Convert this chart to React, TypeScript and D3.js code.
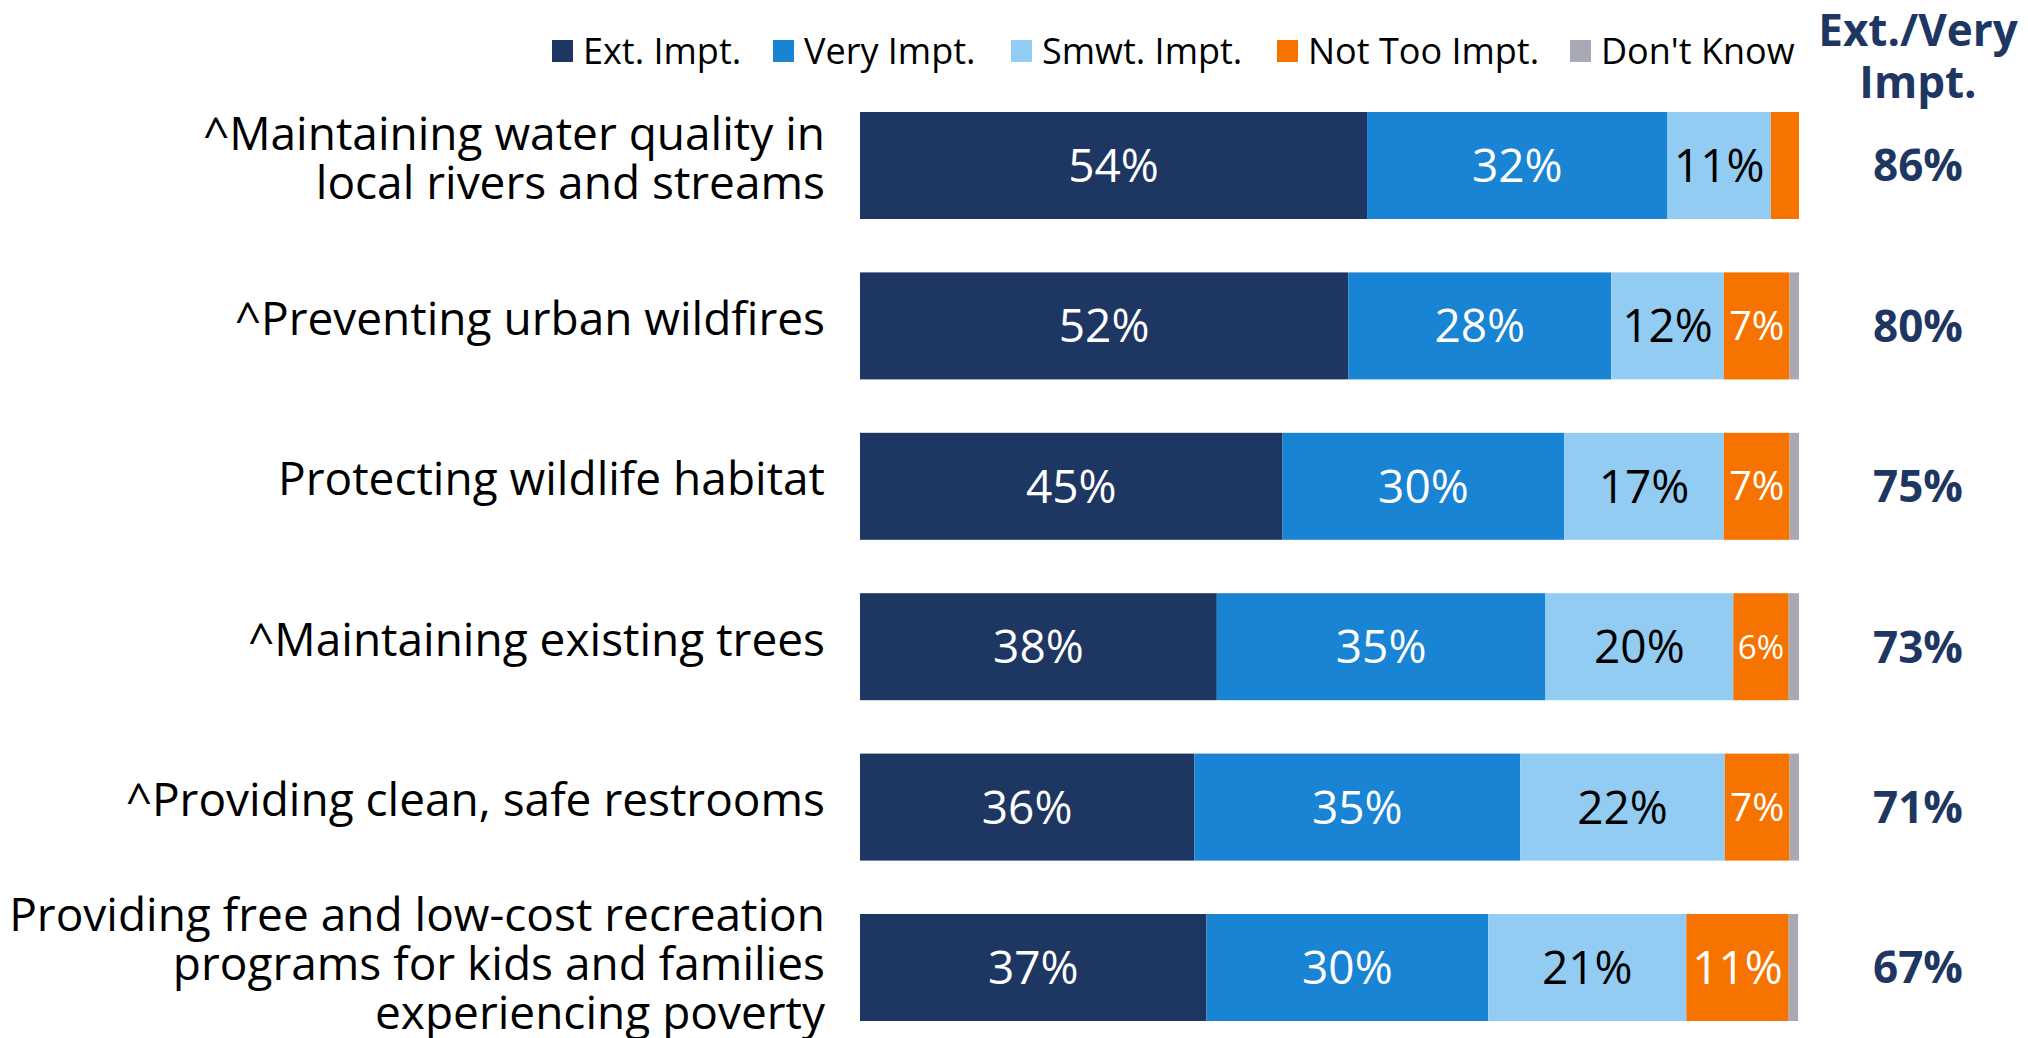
import React from "react";
import * as d3 from "d3";

const categories = [
  "^Maintaining water quality in\nlocal rivers and streams",
  "^Preventing urban wildfires",
  "Protecting wildlife habitat",
  "^Maintaining existing trees",
  "^Providing clean, safe restrooms",
  "Providing free and low-cost recreation\nprograms for kids and families\nexperiencing poverty",
];
const seriesNames = ["Ext. Impt.", "Very Impt.", "Smwt. Impt.", "Not Too Impt.", "Don't Know"];
const extImpt = [54, 52, 45, 38, 35.6, 36.9];
const veryImpt = [32, 28, 30, 35, 34.7, 30.0];
const smwtImpt = [11, 12, 17, 20, 21.8, 21.1];
const notTooImpt = [3, 7, 7, 5.9, 6.9, 10.9];
const dontKnow = [0, 1, 1, 1.1, 1.0, 1.0];
const extVery = [86, 80, 75, 73, 71, 67];
const netHeader = ["Ext./Very", "Impt."];

const colors = ["#1E3762", "#1984D4", "#92CCF2", "#F77300", "#A7A9B7"];
const labelColors = ["#FFFFFF", "#FFFFFF", "#000000", "#FFFFFF", "none"];
const FONT = "'Open Sans', 'Noto Sans', sans-serif";
const NAVY = "#1E3762";

export default function App() {
  const W = 2028;
  const H = 1038;
  const keys = seriesNames;
  const rows = categories.map((c, i) => ({
    cat: c,
    [keys[0]]: extImpt[i],
    [keys[1]]: veryImpt[i],
    [keys[2]]: smwtImpt[i],
    [keys[3]]: notTooImpt[i],
    [keys[4]]: dontKnow[i],
  }));
  const stacked = d3.stack<any>().keys(keys)(rows);

  const x = d3.scaleLinear().domain([0, 100]).range([860, 1799]);
  const step = 160.4;
  const bw = 107;
  const pad = 1 - bw / step;
  const y0 = 112 - ((step - bw) / 2);
  const y = d3
    .scaleBand<string>()
    .domain(categories)
    .range([y0, y0 + step * categories.length])
    .paddingInner(pad)
    .paddingOuter(pad / 2);

  const netX = 1918;
  const labelRight = 825;

  const legendSwatchX = [552, 773, 1011, 1277, 1570];
  const legendY = 51;

  return (
    <svg width={W} height={H} style={{ display: "block", position: "absolute", left: 0, top: 0 }} fontFamily={FONT}>
      <rect width={W} height={H} fill="#FFFFFF" />
      {keys.map((k, i) => (
        <g key={k}>
          <rect x={legendSwatchX[i]} y={legendY - 11} width={21} height={22} fill={colors[i]} />
          <text x={legendSwatchX[i] + 31} y={legendY} dy="0.35em" fontSize={36} fill="#000">
            {k}
          </text>
        </g>
      ))}
      {netHeader.map((t, i) => (
        <text key={t} x={netX} y={31 + i * 52} dy="0.35em" textAnchor="middle" fontSize={44} fontWeight="bold" fill={NAVY}>
          {t}
        </text>
      ))}
      {stacked.map((s, si) => (
        <g key={s.key}>
          {s.map((d, i) => {
            const x0 = x(d[0]);
            const x1 = x(d[1]);
            const w = x1 - x0;
            const cy = (y(categories[i]) as number) + bw / 2;
            const v = d[1] - d[0];
            const show = labelColors[si] !== "none" && v >= 5;
            const fs = w < 80 ? w * 0.6 : 46;
            return (
              <g key={i}>
                {w > 0 && <rect x={x0} y={y(categories[i])} width={w} height={y.bandwidth()} fill={colors[si]} />}
                {show && (
                  <text x={(x0 + x1) / 2} y={cy} dy="0.36em" textAnchor="middle" fontSize={fs} fill={labelColors[si]}>
                    {Math.round(v)}%
                  </text>
                )}
              </g>
            );
          })}
        </g>
      ))}
      {categories.map((c, i) => {
        const lines = c.split("\n");
        const lh = 49;
        const cy = (y(c) as number) + bw / 2 - (lines.length === 3 ? 4 : 7);
        return (
          <text key={c} textAnchor="end" fontSize={46} fill="#000">
            {lines.map((l, li) => (
              <tspan key={li} x={labelRight} y={cy + (li - (lines.length - 1) / 2) * lh} dy="0.35em">
                {l}
              </tspan>
            ))}
          </text>
        );
      })}
      {extVery.map((v, i) => (
        <text key={i} x={netX} y={(y(categories[i]) as number) + bw / 2} dy="0.36em" textAnchor="middle" fontSize={44} fontWeight="bold" fill={NAVY}>
          {v}%
        </text>
      ))}
    </svg>
  );
}
